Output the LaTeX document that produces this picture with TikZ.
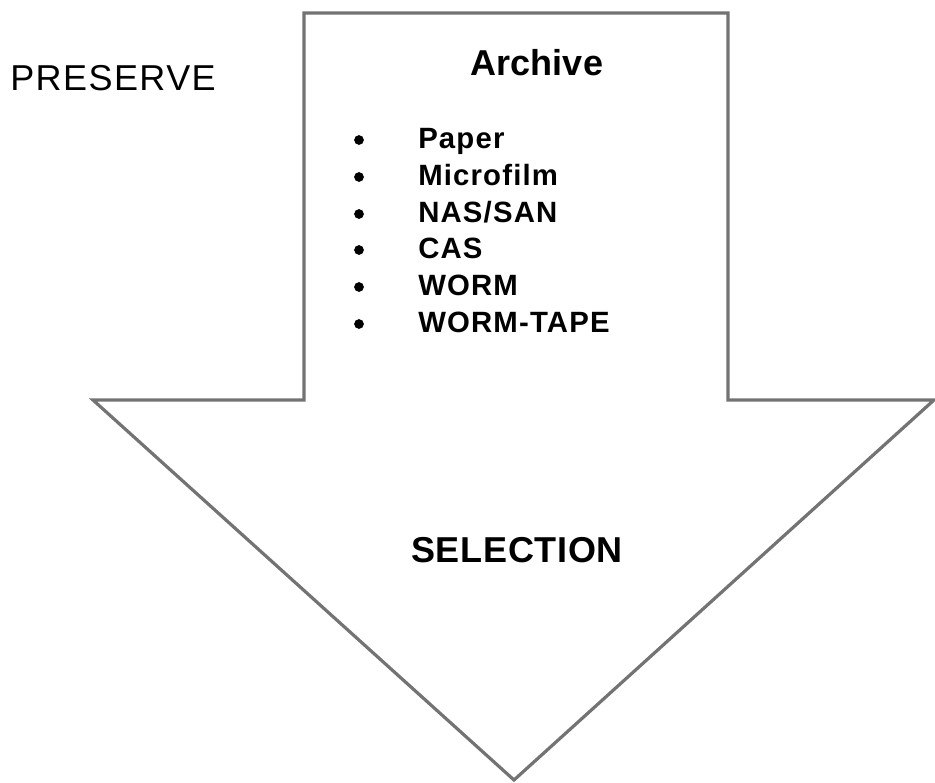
\documentclass[tikz,border=0pt]{standalone}
\usepackage{fontspec}
\setmainfont{Liberation Sans}
\begin{document}
\begin{tikzpicture}[x=0.75pt,y=-0.75pt,
  arrowshape/.style={draw=black!55,line width=2.4pt,line join=miter,fill=white},
  bigtext/.style={font=\fontsize{27}{32}\selectfont,text=black,inner sep=0pt},
  itemtext/.style={font=\bfseries\fontsize{22}{26}\selectfont\addfontfeature{LetterSpace=4},text=black,inner sep=0pt,anchor=base west},
  bulletmark/.style={circle,fill=black,inner sep=0pt,minimum size=7.3pt}]
\useasboundingbox (0,0) rectangle (935,782);
\draw[arrowshape] (304,13) -- (728,13) -- (728,400) -- (934,400) -- (514,780) -- (93,400) -- (304,400) -- cycle;
\node[bigtext,font=\fontsize{27}{32}\selectfont\addfontfeature{LetterSpace=4},anchor=base west] (preserve) at (10,90) {PRESERVE};
\node[bigtext,font=\bfseries\fontsize{27}{32}\selectfont,anchor=base] (archive) at (537,75) {Archive};
\node[bigtext,font=\bfseries\fontsize{27}{32}\selectfont\addfontfeature{LetterSpace=2},anchor=base] (selection) at (517,562) {SELECTION};
\node[itemtext] (item1) at (418,148) {Paper};
\node[itemtext] (item2) at (418,185) {Microfilm};
\node[itemtext] (item3) at (418,222) {NAS/SAN};
\node[itemtext] (item4) at (418,258) {CAS};
\node[itemtext] (item5) at (418,295) {WORM};
\node[itemtext] (item6) at (418,332) {WORM-TAPE};
\foreach \y [count=\i] in {140,177,214,250,287,324}{
  \node[bulletmark] (bul\i) at (359,\y) {};
}
\end{tikzpicture}
\end{document}
